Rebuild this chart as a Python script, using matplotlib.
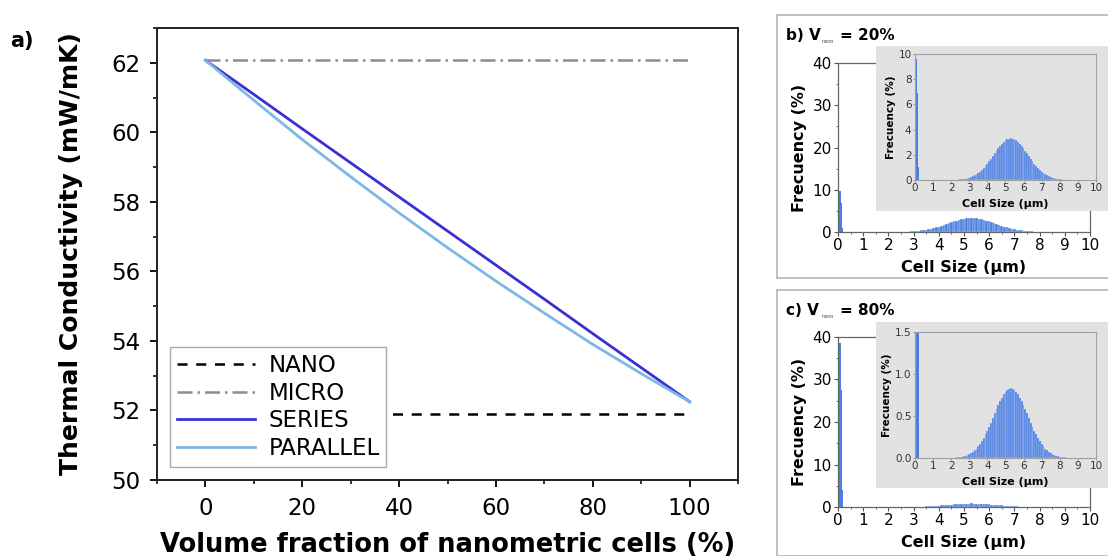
import numpy as np
import matplotlib
matplotlib.use("Agg")
from matplotlib import pyplot as plt
from matplotlib.patches import Rectangle
from matplotlib.ticker import MultipleLocator, FormatStrFormatter

plt.rcParams['font.family'] = ['DejaVu Sans']

# panel a - conductividad termica
volume_fraction = [0, 10, 20, 30, 40, 50, 60, 70, 80, 90, 100]
k_series = [62.07, 61.09, 60.10, 59.12, 58.14, 57.16, 56.18, 55.20, 54.21, 53.23, 52.25]
k_parallel = [62.07, 60.92, 59.79, 58.72, 57.68, 56.68, 55.72, 54.80, 53.90, 53.06, 52.25]
k_nano = 51.9
k_micro = 62.07

# panels b, c - histogramas de tamano de celda
nano_sizes = [0.03, 0.08, 0.13, 0.18]
nano_freq_20 = [2.5, 9.6, 6.9, 1.0]
nano_freq_80 = [10.0, 38.5, 27.5, 4.0]

micro_sizes = [round(2.0 + 0.1 * i, 1) for i in range(66)]
micro_freq_20 = [0.008, 0.011, 0.016, 0.022, 0.031, 0.043, 0.058, 0.078, 0.10, 0.14,
                 0.18, 0.23, 0.29, 0.36, 0.45, 0.55, 0.67, 0.80, 0.95, 1.11,
                 1.29, 1.49, 1.69, 1.90, 2.11, 2.31, 2.52, 2.70, 2.87, 3.02,
                 3.14, 3.23, 3.28, 3.30, 3.28, 3.23, 3.14, 3.02, 2.87, 2.70,
                 2.52, 2.31, 2.11, 1.90, 1.69, 1.49, 1.29, 1.11, 0.95, 0.80,
                 0.67, 0.55, 0.45, 0.36, 0.29, 0.23, 0.18, 0.14, 0.10, 0.078,
                 0.058, 0.043, 0.031, 0.022, 0.016, 0.011]
micro_freq_80 = [0.002, 0.003, 0.004, 0.006, 0.008, 0.011, 0.015, 0.020, 0.025, 0.035,
                 0.045, 0.058, 0.073, 0.09, 0.11, 0.14, 0.17, 0.20, 0.24, 0.28,
                 0.32, 0.37, 0.42, 0.48, 0.53, 0.58, 0.63, 0.68, 0.72, 0.76,
                 0.79, 0.81, 0.82, 0.83, 0.82, 0.81, 0.79, 0.76, 0.72, 0.68,
                 0.63, 0.58, 0.53, 0.48, 0.42, 0.37, 0.32, 0.28, 0.24, 0.20,
                 0.17, 0.14, 0.11, 0.09, 0.073, 0.058, 0.045, 0.035, 0.025, 0.020,
                 0.015, 0.011, 0.008, 0.006, 0.004, 0.003]

bar_color = '#4a7fe0'
inset_gray = '#e2e2e2'

fig = plt.figure(figsize=(11.08, 5.56), dpi=100)

# ---- panel a ----
ax = fig.add_axes([0.1417, 0.1367, 0.5244, 0.813])
ax.plot([volume_fraction[0], volume_fraction[-1]], [k_nano, k_nano], color='black',
        ls=(0, (4, 3.5)), lw=1.8, label='NANO')
ax.plot([volume_fraction[0], volume_fraction[-1]], [k_micro, k_micro], color='#8c8c8c',
        ls=(0, (6, 2, 1, 2)), lw=1.8, label='MICRO')
ax.plot(volume_fraction, k_series, color='#3b2fd4', lw=2, label='SERIES')
ax.plot(volume_fraction, k_parallel, color='#7db7e3', lw=2, label='PARALLEL')
ax.set_xlim(-10, 110)
ax.set_ylim(50, 63)
ax.xaxis.set_major_locator(MultipleLocator(20))
ax.xaxis.set_minor_locator(MultipleLocator(10))
ax.yaxis.set_major_locator(MultipleLocator(2))
ax.yaxis.set_minor_locator(MultipleLocator(1))
ax.tick_params(which='major', direction='out', length=5, width=1.3, labelsize=16.5, pad=7)
ax.tick_params(which='minor', direction='out', length=3, width=1.1)
for s in ax.spines.values():
    s.set_linewidth(1.4)
    s.set_color('#222222')
ax.set_xlabel('Volume fraction of nanometric cells (%)', fontsize=18.5, fontweight='bold', labelpad=9)
ax.set_ylabel('Thermal Conductivity (mW/mK)', fontsize=18, fontweight='bold', labelpad=20)
leg = ax.legend(loc='lower left', bbox_to_anchor=(0.022, 0.029), borderaxespad=0,
                fontsize=16.5, frameon=True, fancybox=False, framealpha=1, edgecolor='#aaaaaa',
                handlelength=3.4, labelspacing=0.2, borderpad=0.3, handletextpad=0.6)
leg.get_frame().set_linewidth(1.0)
fig.text(0.009, 0.915, 'a)', fontsize=15, fontweight='bold')


def hist_panel(frame_y, frame_h, main_b, main_h, gray_b, gray_h, inset_b,
               letter, pct, nano_freq, micro_freq, inset_top, inset_step):
    fig.add_artist(Rectangle((0.701, frame_y), 0.32, frame_h, transform=fig.transFigure,
                             facecolor='white', edgecolor='#b5b5b5', lw=1.2, zorder=-5))
    ty = frame_y + frame_h - 0.045
    fig.text(0.709, ty, letter + ') V', fontsize=11, fontweight='bold')
    fig.text(0.7415, ty - 0.005, 'nano', fontsize=3.5, color='#444444')
    fig.text(0.7585, ty, '= ' + pct, fontsize=11, fontweight='bold')

    m = fig.add_axes([0.7563, main_b, 0.2274, main_h])
    m.set_zorder(1)
    m.bar(nano_sizes, nano_freq, width=0.05, color=bar_color, edgecolor='none')
    m.bar(micro_sizes, micro_freq, width=0.1, color=bar_color, edgecolor='white', lw=0.2)
    m.set_xlim(0, 10)
    m.set_ylim(0, 40)
    m.xaxis.set_major_locator(MultipleLocator(1))
    m.xaxis.set_minor_locator(MultipleLocator(0.5))
    m.yaxis.set_major_locator(MultipleLocator(10))
    m.yaxis.set_minor_locator(MultipleLocator(5))
    m.tick_params(which='major', length=3, width=0.8, labelsize=11, pad=1.5, color='#555555')
    m.tick_params(which='minor', length=1.5, width=0.6, color='#555555')
    for s in m.spines.values():
        s.set_color('#666666')
        s.set_linewidth(0.9)
    m.set_xlabel('Cell Size (\u00b5m)', fontsize=11.5, fontweight='bold', labelpad=5)
    m.set_ylabel('Frecuency (%)', fontsize=11.5, fontweight='bold', labelpad=4)

    fig.add_artist(Rectangle((0.7906, gray_b), 0.25, gray_h, transform=fig.transFigure,
                             facecolor=inset_gray, edgecolor='none', zorder=2))
    ins = fig.add_axes([0.8258, inset_b, 0.1633, 0.2266])
    ins.set_zorder(3)
    ins.set_facecolor(inset_gray)
    ins.bar(nano_sizes, nano_freq, width=0.05, color=bar_color, edgecolor='none')
    ins.bar(micro_sizes, micro_freq, width=0.1, color=bar_color, edgecolor='#dfe8f8', lw=0.2)
    ins.set_xlim(0, 10)
    ins.set_ylim(0, inset_top)
    ins.xaxis.set_major_locator(MultipleLocator(1))
    ins.yaxis.set_major_locator(MultipleLocator(inset_step))
    ins.tick_params(which='major', length=1.5, width=0.5, labelsize=7.5, pad=1,
                    color='#777777', labelcolor='#333333')
    for s in ins.spines.values():
        s.set_color('#a0a0a0')
        s.set_linewidth(0.8)
    ins.set_xlabel('Cell Size (\u00b5m)', fontsize=8, fontweight='bold', labelpad=4)
    ins.set_ylabel('Frecuency (%)', fontsize=7.5, fontweight='bold', labelpad=2)
    return ins


ins_b = hist_panel(0.5, 0.473, 0.5827, 0.304, 0.6205, 0.2968, 0.6763,
                   'b', '20%', nano_freq_20, micro_freq_20, 10, 2)
ins_c = hist_panel(0.0, 0.478, 0.0881, 0.3058, 0.1223, 0.2986, 0.1763,
                   'c', '80%', nano_freq_80, micro_freq_80, 1.5, 0.5)
ins_c.yaxis.set_major_formatter(FormatStrFormatter('%.1f'))

fig.savefig('out.png', dpi=100)
